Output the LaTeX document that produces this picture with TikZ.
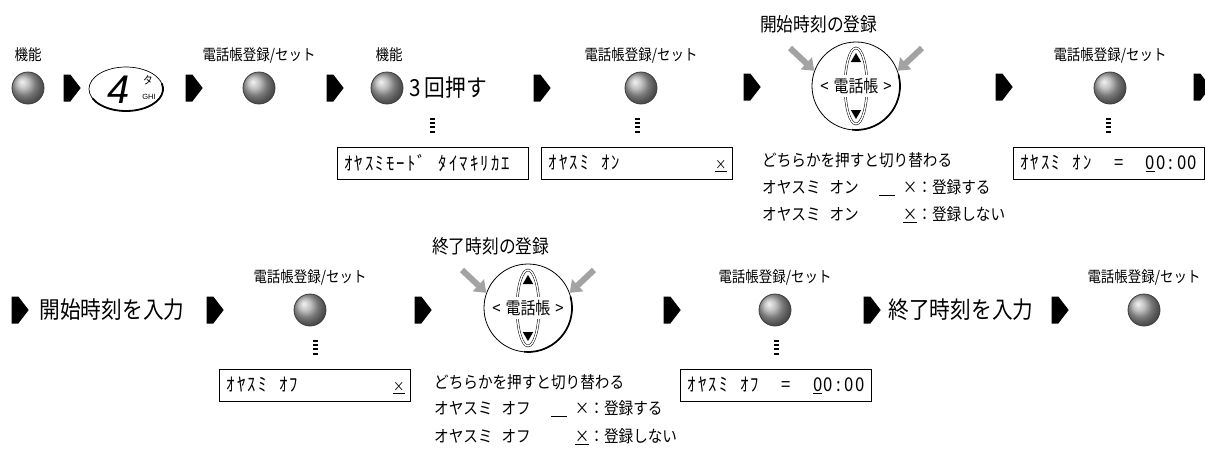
\documentclass[tikz,border=0pt]{standalone}
\usepackage{fontspec}
\setmainfont{Noto Sans CJK JP}[FakeStretch=0.88]
\newfontfamily\keyfont{Liberation Sans}
\usetikzlibrary{arrows.meta, positioning, calc, shapes.geometric, shapes.symbols}

% one LCD cell per character
\newcommand{\lcd}[1]{\foreach \chr in {#1}{\makebox[10.5pt]{\chr}}}
\newcommand{\cursorbar}{\rule[-3pt]{16pt}{1.1pt}}
\newcommand{\lcdx}{\underline{\fontsize{13}{13}\selectfont ×}}

\begin{document}
\begin{tikzpicture}[
    x=1pt, y=1pt,
    every node/.style={inner sep=0pt},
    button/.style={circle, minimum size=32pt, draw=balldark, line width=0.8pt,
        shading=ball, ball color=gray!65},
    nextarrow/.style={signal, signal to=east, signal pointer angle=105,
        fill=black, minimum width=17pt, minimum height=27pt},
    btnlabel/.style={font=\fontsize{15.3}{16}\selectfont},
    lcdbox/.style={draw, line width=0.7pt, minimum height=32pt, text width=179pt,
        inner xsep=6pt, align=left, font=\fontsize{19}{19}\selectfont},
    bigtext/.style={font=\fontsize{23.5}{24}\selectfont},
    steptitle/.style={anchor=west, font=\fontsize{19}{20}\selectfont},
    hint/.style={anchor=west, font=\fontsize{16.6}{17}\selectfont},
    vdots/.style={line width=5pt, dash pattern=on 2pt off 2.3pt},
    tri/.style={regular polygon, regular polygon sides=3, fill, minimum size=12pt},
    pointer/.style={pointergray, line width=6pt, -{Triangle[width=16pt, length=11pt]}},
]

\definecolor{pointergray}{HTML}{A3A3A3}
\definecolor{balldark}{HTML}{3C3C3C}

\useasboundingbox (0,0) rectangle (1205,-448);

% ================================================================
%   row 1   buttons at y = -88,  displays at y = -163
%   row 2   buttons at y = -310, displays at y = -385
% ================================================================

% ---------------------------------------------------------------- row 1
\node[btnlabel] (l1) at (28,-55) {機能};
\node[button] (b1) at (28,-88) {};
\node[nextarrow] (a1) at (67,-88) {};

\node[ellipse, draw, line width=0.7pt, minimum width=74pt, minimum height=44pt]
    (key4) at (126,-89) {};
\draw[line width=1.8pt] (key4.center) ++(205:37pt and 22pt)
    arc[start angle=205, end angle=375, x radius=37pt, y radius=22pt];
\node[font=\keyfont\itshape\fontsize{40}{40}\selectfont] (k4) at (119,-90) {4};
\node[font=\fontsize{11}{11}\selectfont] (k4kana) at (148,-80) {タ};
\node[font=\keyfont\fontsize{7.5}{8}\selectfont] (k4abc) at (149,-97) {GHI};
\node[nextarrow] (a2) at (189,-88) {};

\node[btnlabel] (l2) at (259,-55) {電話帳登録/セット};
\node[button] (b2) at (259,-88) {};
\node[nextarrow] (a3) at (330,-88) {};

\node[btnlabel] (l3) at (389,-55) {機能};
\node[button] (b3) at (387,-88) {};
\node[bigtext, anchor=west] (t3) at (409,-88) {3\hspace{4pt}回押す};
\node[lcdbox] (d1) at (432.5,-163) {\lcd{ｵ,ﾔ,ｽ,ﾐ,ﾓ,ｰ,ﾄ,ﾞ,{},ﾀ,ｲ,ﾏ,ｷ,ﾘ,ｶ,ｴ}};
\draw[vdots] ([yshift=14pt]d1.north) -- ++(0,15);
\node[nextarrow] (a4) at (537,-88) {};

\node[btnlabel] (l4) at (641,-55) {電話帳登録/セット};
\node[button] (b4) at (641,-88) {};
\node[lcdbox] (d2) at (637,-163) {\lcd{ｵ,ﾔ,ｽ,ﾐ,{},ｵ,ﾝ}\hfill\lcdx};
\draw[vdots] ([yshift=14pt]d2.north) -- ++(0,15);
\node[nextarrow] (a5) at (747,-87) {};

\node[steptitle] (s1) at (760,-24) {開始時刻の登録};
\node[hint] (h1) at (762,-160) {どちらかを押すと切り替わる};
\node[hint] (h2) at (762,-188)
    {オヤスミ\hspace{9pt}オン\hspace{20pt}\cursorbar\hspace{8pt}×：登録する};
\node[hint] (h3) at (762,-215)
    {オヤスミ\hspace{9pt}オン\hspace{20pt}\phantom{\cursorbar}\hspace{8pt}\underline{×}：登録しない};
\node[nextarrow] (a6) at (999,-87) {};

\node[btnlabel] (l5) at (1110,-55) {電話帳登録/セット};
\node[button] (b5) at (1110,-88) {};
\node[lcdbox] (d3) at (1108.5,-163)
    {\lcd{ｵ,ﾔ,ｽ,ﾐ,{},ｵ,ﾝ,{},{},=,{},{},\underline{0},0,:,0,0}};
\draw[vdots] ([yshift=14pt]d3.north) -- ++(0,15);
\node[nextarrow] (a7) at (1197,-87) {};

% ---------------------------------------------------------------- row 2
\node[nextarrow] (a8) at (15,-310) {};
\node[bigtext] (t8) at (112,-310) {開始時刻を入力};
\node[nextarrow] (a9) at (210,-310) {};

\node[btnlabel] (l6) at (310,-277) {電話帳登録/セット};
\node[button] (b6) at (310,-310) {};
\node[lcdbox] (d4) at (315,-385) {\lcd{ｵ,ﾔ,ｽ,ﾐ,{},ｵ,ﾌ}\hfill\lcdx};
\draw[vdots] ([yshift=14pt]d4.north) -- ++(0,15);
\node[nextarrow] (a10) at (418,-310) {};

\node[steptitle] (s2) at (432,-246) {終了時刻の登録};
\node[hint] (h4) at (434,-382) {どちらかを押すと切り替わる};
\node[hint] (h5) at (434,-409)
    {オヤスミ\hspace{9pt}オフ\hspace{20pt}\cursorbar\hspace{8pt}×：登録する};
\node[hint] (h6) at (434,-437)
    {オヤスミ\hspace{9pt}オフ\hspace{20pt}\phantom{\cursorbar}\hspace{8pt}\underline{×}：登録しない};
\node[nextarrow] (a11) at (667,-310) {};

\node[btnlabel] (l7) at (775,-277) {電話帳登録/セット};
\node[button] (b7) at (775,-310) {};
\node[lcdbox] (d5) at (776,-385)
    {\lcd{ｵ,ﾔ,ｽ,ﾐ,{},ｵ,ﾌ,{},{},=,{},{},\underline{0},0,:,0,0}};
\draw[vdots] ([yshift=14pt]d5.north) -- ++(0,15);
\node[nextarrow] (a12) at (867,-310) {};

\node[bigtext] (t12) at (961,-310) {終了時刻を入力};
\node[nextarrow] (a13) at (1055,-310) {};

\node[btnlabel] (l8) at (1144,-277) {電話帳登録/セット};
\node[button] (b8) at (1144,-310) {};

% ---------------------------------------------------------------- the two dials
\foreach \n/\x/\y in {1/856/-86, 2/528/-308} {
    \node[circle, draw, line width=0.8pt, minimum size=88pt] (dial\n) at (\x,\y) {};
    \draw[line width=1.7pt] (dial\n.center) ++(-95:44pt)
        arc[start angle=-95, end angle=15, radius=44pt];
    \draw[line width=0.5pt, double, double distance=1.4pt]
        (dial\n.center) ellipse[x radius=11pt, y radius=38pt];
    \node[tri] (up\n) at ([yshift=27pt]dial\n.center) {};
    \node[tri, shape border rotate=180] (down\n) at ([yshift=-27pt]dial\n.center) {};
    \node[fill=white, inner xsep=1pt, inner ysep=3pt, font=\fontsize{17}{17}\selectfont]
        (pb\n) at (dial\n.center) {<\hspace{5pt}電話帳\hspace{5pt}>};
    \coordinate (pl\n) at ([shift={(-66pt,38pt)}]dial\n.center);
    \coordinate (pr\n) at ([shift={(66pt,38pt)}]dial\n.center);
    \draw[pointer] (pl\n) -- (dial\n.160);
    \draw[pointer] (pr\n) -- (dial\n.20);
}

\end{tikzpicture}
\end{document}
